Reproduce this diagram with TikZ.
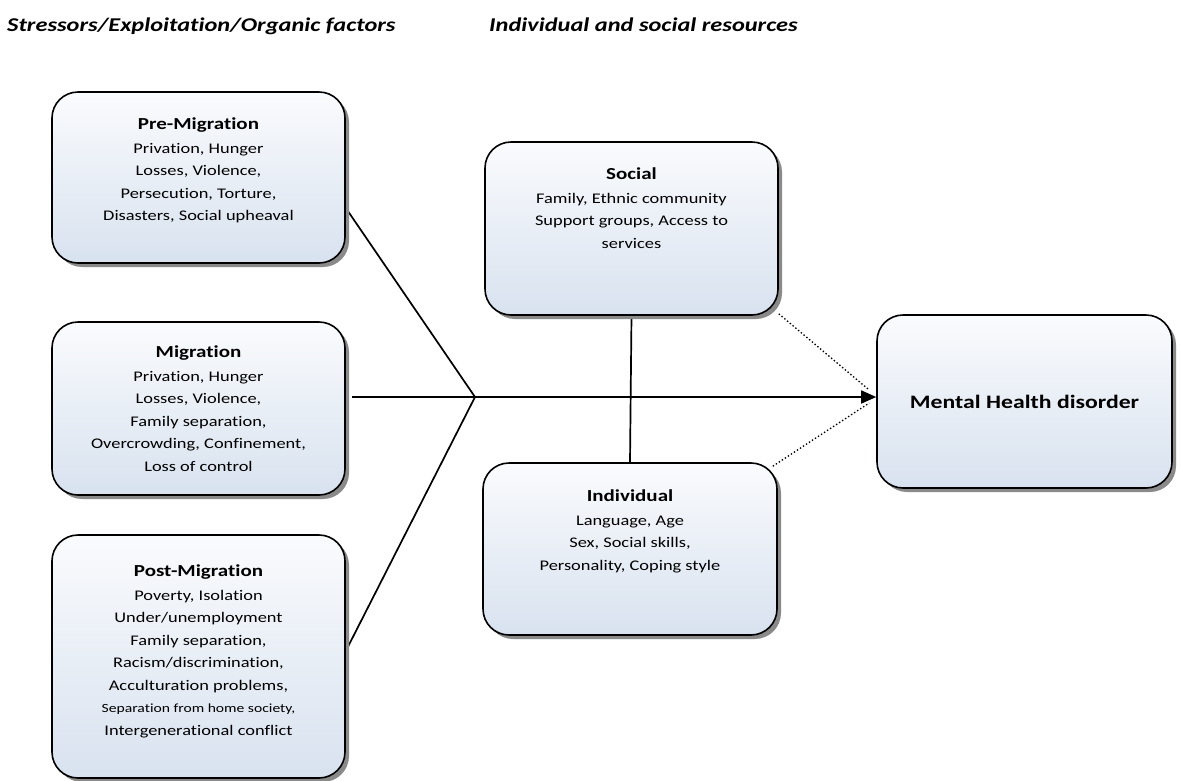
\documentclass[tikz,border=0pt]{standalone}
\usepackage{fontspec}
\setmainfont{Carlito}[Ligatures={NoCommon}]
\newfontfamily\bodyfont{Carlito}[Ligatures={NoCommon},FakeStretch=1.25]
\usetikzlibrary{shadows,arrows.meta,backgrounds}
\definecolor{boxblue}{HTML}{D8E2EF}
\definecolor{boxtop}{HTML}{FAFBFD}
\definecolor{shadowgray}{HTML}{8A8A8A}
\tikzset{
  box/.style={draw=black, line width=1.6pt, rounded corners=26pt,
    top color=boxtop, bottom color=boxblue, inner sep=0pt,
    drop shadow={shadow xshift=4pt, shadow yshift=-4pt, fill=shadowgray, opacity=1}},
  txt/.style={align=center, anchor=north, inner sep=0pt,
    font=\bodyfont\fontsize{14.7}{22.5}\selectfont},
  hdr/.style={anchor=base west, inner sep=0pt, font=\bodyfont\fontsize{19.5}{22}\selectfont\bfseries\itshape},
  conn/.style={line width=1.7pt, draw=black},
  dots/.style={line width=1.3pt, dash pattern=on 1.4pt off 2.2pt}
}
\newcommand{\ttl}[1]{{\fontsize{16.8}{23}\selectfont\bfseries\rule{0pt}{16pt}#1}}
\begin{document}
\begin{tikzpicture}[x=1pt,y=-1pt]
\useasboundingbox (0,0) rectangle (1181,780);

% headers
\node[hdr] (h1) at (7,31) {Stressors/Exploitation/Organic factors};
\node[hdr] (h2) at (489,31) {Individual and social resources};

% boxes
\node[box, minimum width=293pt, minimum height=171pt] (pre) at (198.5,177.5) {};
\node[box, minimum width=293pt, minimum height=173pt] (mig) at (198.5,408.5) {};
\node[box, minimum width=293pt, minimum height=243pt] (post) at (198.5,656.5) {};
\node[box, minimum width=293pt, minimum height=173pt] (social) at (631.5,228.5) {};
\node[box, minimum width=294pt, minimum height=172pt] (indiv) at (630,549) {};
\node[box, minimum width=295pt, minimum height=173pt] (mental) at (1024.5,401.5) {};

% texts
\node[txt] (pret) at ([yshift=-22.5pt]pre.north) {\ttl{Pre-Migration}\\[1pt]Privation, Hunger\\Losses, Violence,\\Persecution, Torture,\\Disasters, Social upheaval};
\node[txt] (migt) at ([yshift=-20.5pt]mig.north) {\ttl{Migration}\\[1pt]Privation, Hunger\\Losses, Violence,\\Family separation,\\Overcrowding, Confinement,\\Loss of control};
\node[txt] (postt) at ([yshift=-26.5pt]post.north) {\ttl{Post-Migration}\\[1pt]Poverty, Isolation\\Under/unemployment\\Family separation,\\Racism/discrimination,\\Acculturation problems,\\{\fontsize{12.5}{22.5}\selectfont Separation from home society,}\\Intergenerational conflict};
\node[txt] (socialt) at ([yshift=-22.5pt]social.north) {\ttl{Social}\\[1pt]Family, Ethnic community\\Support groups, Access to\\services};
\node[txt] (indivt) at ([yshift=-23.5pt]indiv.north) {\ttl{Individual}\\[1pt]Language, Age\\Sex, Social skills,\\Personality, Coping style};
\node[anchor=center, inner sep=0pt, font=\bodyfont\fontsize{19}{24}\selectfont\bfseries] (mentalt) at (mental.center) {Mental Health disorder};

% connectors
\coordinate (fork) at (475,397);
\begin{scope}[on background layer]
\draw[conn] ([yshift=-30.5pt]pre.east) -- (fork);
\draw[conn] ([yshift=5.5pt]post.east) -- (fork);
\draw[conn] (social.south) -- (indiv.north);
\end{scope}
\draw[conn] ([xshift=6pt]mig.east |- fork) -- (fork);
\draw[conn, -{Triangle[length=15pt,width=13pt]}] (fork) -- (mental.west |- fork);
\draw[dots] ([yshift=2pt]social.south east) -- ([xshift=-7pt,yshift=11.5pt]mental.west);
\draw[dots] ([xshift=-5pt,yshift=-4pt]indiv.north east) -- ([xshift=-7pt,yshift=-1.5pt]mental.west);
\end{tikzpicture}
\end{document}
